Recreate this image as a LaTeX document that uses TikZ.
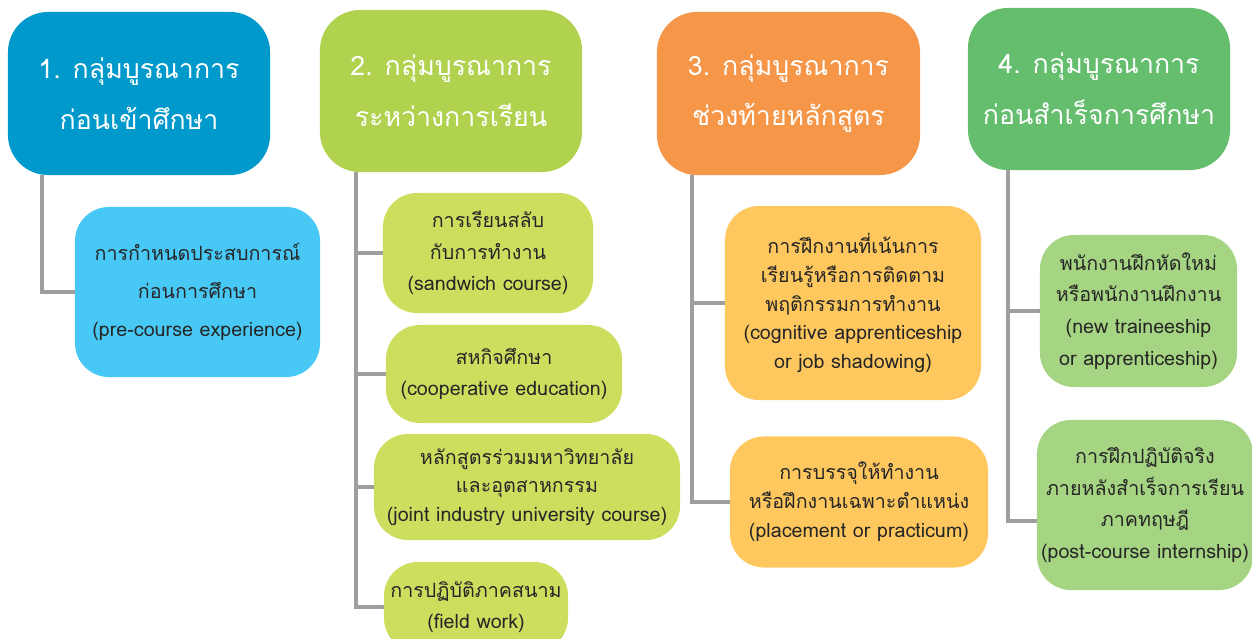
\documentclass[tikz,border=0pt]{standalone}
\usepackage{fontspec}
\newfontfamily\thaifont[Script=Thai]{Loma}
\begin{document}
\begin{tikzpicture}[x=0.025cm,y=-0.025cm,
    headbox/.style={rounded corners=1cm, text=white, align=center, inner sep=0pt,
      font=\thaifont\fontsize{19}{36}\selectfont},
    subbox/.style={rounded corners=0.85cm, text=black!85, align=center, inner sep=0pt,
      font=\thaifont\fontsize{14}{22.5}\selectfont},
    tightbox/.style={font=\thaifont\fontsize{14}{20.5}\selectfont},
    loosebox/.style={font=\thaifont\fontsize{14}{27}\selectfont},
    link/.style={draw=linegray, line width=2.8pt}]
        % Define colors
        \definecolor{headone}{RGB}{0,153,204}
        \definecolor{headtwo}{RGB}{176,210,79}
        \definecolor{headthree}{RGB}{245,150,72}
        \definecolor{headfour}{RGB}{100,190,110}
        \definecolor{subone}{RGB}{72,200,245}
        \definecolor{subtwo}{RGB}{205,222,95}
        \definecolor{subthree}{RGB}{255,200,95}
        \definecolor{subfour}{RGB}{165,212,130}
        \definecolor{linegray}{RGB}{158,158,158}

        % Page size
        \useasboundingbox (0,0) rectangle (1252,639);

        % Group heads
        \node[headbox, fill=headone, minimum width=6.55cm, minimum height=4.075cm] (h1) at (139,93.5)
            {1. กลุ่มบูรณาการ\\ก่อนเข้าศึกษา};
        \node[headbox, fill=headtwo, minimum width=6.55cm, minimum height=4.05cm] (h2) at (451,91)
            {2. กลุ่มบูรณาการ\\ระหว่างการเรียน};
        \node[headbox, fill=headthree, minimum width=6.575cm, minimum height=4.075cm] (h3) at (788.5,93.5)
            {3. กลุ่มบูรณาการ\\ช่วงท้ายหลักสูตร};
        \node[headbox, fill=headfour, minimum width=6.55cm, minimum height=4.05cm] (h4) at (1099,89)
            {4. กลุ่มบูรณาการ\\ก่อนสำเร็จการศึกษา};

        % Group 1
        \node[subbox, loosebox, fill=subone, minimum width=6.125cm, minimum height=4.25cm] (s1) at (197.5,292)
            {การกำหนดประสบการณ์\\ก่อนการศึกษา\\(pre-course experience)};

        % Group 2
        \node[subbox, fill=subtwo, minimum width=5.25cm, minimum height=3cm] (s2a) at (488,253)
            {การเรียนสลับ\\กับการทำงาน\\(sandwich course)};
        \node[subbox, fill=subtwo, minimum width=5.9cm, minimum height=2.45cm] (s2b) at (504,374)
            {สหกิจศึกษา\\(cooperative education)};
        \node[subbox, tightbox, fill=subtwo, minimum width=7.65cm, minimum height=2.65cm] (s2c) at (527,487)
            {หลักสูตรร่วมมหาวิทยาลัย\\และอุตสาหกรรม\\(joint industry university course)};
        \node[subbox, fill=subtwo, minimum width=4.6cm, minimum height=2.25cm] (s2d) at (476,607)
            {การปฏิบัติภาคสนาม\\(field work)};

        % Group 3
        \node[subbox, tightbox, fill=subthree, minimum width=6.4cm, minimum height=4.85cm] (s3a) at (853,303)
            {การฝึกงานที่เน้นการ\\เรียนรู้หรือการติดตาม\\พฤติกรรมการทำงาน\\(cognitive apprenticeship\\or job shadowing)};
        \node[subbox, tightbox, fill=subthree, minimum width=6.45cm, minimum height=3.275cm] (s3b) at (859,502)
            {การบรรจุให้ทำงาน\\หรือฝึกงานเฉพาะตำแหน่ง\\(placement or practicum)};

        % Group 4
        \node[subbox, fill=subfour, minimum width=4.925cm, minimum height=3.8cm] (s4a) at (1138.5,311)
            {พนักงานฝึกหัดใหม่\\หรือพนักงานฝึกงาน\\(new traineeship\\or apprenticeship)};
        \node[subbox, fill=subfour, minimum width=5.4cm, minimum height=4.25cm] (s4b) at (1145,505)
            {การฝึกปฏิบัติจริง\\ภายหลังสำเร็จการเรียน\\ภาคทฤษฎี\\(post-course internship)};

        % Draw connectors
        \coordinate (g1) at ([xshift=0.85cm]h1.south west);
        \coordinate (g2) at ([xshift=0.9cm]h2.south west);
        \coordinate (g3) at ([xshift=0.875cm]h3.south west);
        \coordinate (g4) at ([xshift=1cm]h4.south west);
        \draw[link] (g1) |- (s1.west);
        \draw[link] (g2) |- (s2d.west);
        \foreach \n in {s2a,s2b,s2c}
            \draw[link] (\n.west) -- (\n.west -| g2);
        \draw[link] (g3) |- (s3b.west);
        \draw[link] (s3a.west) -- (s3a.west -| g3);
        \draw[link] (g4) |- ([yshift=-0.4cm]s4b.west);
        \draw[link] (s4a.west) -- (s4a.west -| g4);
\end{tikzpicture}
\end{document}
